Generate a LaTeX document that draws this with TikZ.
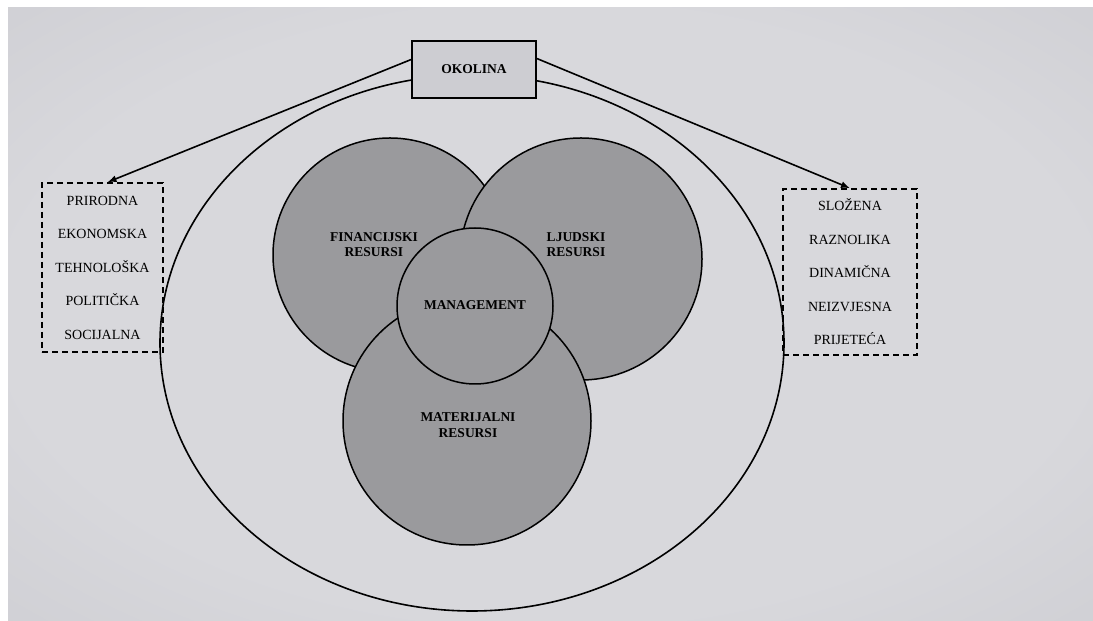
\documentclass[tikz,border=0pt]{standalone}
\usepackage{fontspec}
\setmainfont{Liberation Serif}
\usetikzlibrary{arrows.meta,positioning,shapes.geometric}
\definecolor{pagelight}{RGB}{216,216,220}
\definecolor{pagemid}{RGB}{198,198,204}
\definecolor{pagedark}{RGB}{162,162,170}
\definecolor{boxgray}{RGB}{205,205,210}
\definecolor{resgray}{RGB}{154,154,157}
\pgfdeclareradialshading{paper}{\pgfpointorigin}{color(0bp)=(pagelight); color(25bp)=(pagelight); color(50bp)=(pagemid); color(71bp)=(pagedark)}
\begin{document}
\begin{tikzpicture}[x=1pt,y=1pt,
	res/.style={draw, circle, fill=resgray, line width=1.5pt, inner sep=0pt},
	lbl/.style={font=\fontsize{13.5}{15.5}\selectfont\bfseries, align=center, inner sep=0pt},
	env/.style={draw, dash pattern=on 6pt off 4pt, line width=1.6pt, align=center, font=\fontsize{14}{33.5}\selectfont},
	tip/.style={-{Latex[length=9pt,width=7pt]}, line width=1.6pt}]
		\useasboundingbox (0,0) rectangle (1093,621);
		\fill[white] (0,0) rectangle (1093,621);
		\shade[shading=paper] (8,0) rectangle (1093,613);
		\node (org) [draw, ellipse, line width=1.6pt, minimum width=624pt, minimum height=536pt] at (472,278) {};
		\node (fin) [res, minimum size=234pt] at (390,366) {};
		\node (ljud) [res, minimum size=242pt] at (581,362) {};
		\node (mat) [res, minimum size=248pt] at (467,200) {};
		\node (mgmt) [res, minimum size=156pt] at (475,315) {};
		\node (finl) [lbl] at (374,376.5) {FINANCIJSKI\\RESURSI};
		\node (ljudl) [lbl] at (576,376.5) {LJUDSKI\\RESURSI};
		\node (matl) [lbl] at (468,196) {MATERIJALNI\\RESURSI};
		\node (mgmtl) [lbl] at (475,316) {MANAGEMENT};
		\node (okol) [draw, fill=boxgray, line width=1.6pt, minimum width=124pt, minimum height=57pt, font=\fontsize{13.5}{15}\selectfont\bfseries] at (474,551.5) {OKOLINA};
		\node (lbox) [env, minimum width=121pt, minimum height=169pt] at (102.5,353.5) {PRIRODNA\\EKONOMSKA\\TEHNOLOŠKA\\POLITIČKA\\SOCIJALNA};
		\node (rbox) [env, minimum width=134pt, minimum height=166pt] at (850,349) {SLOŽENA\\RAZNOLIKA\\DINAMIČNA\\NEIZVJESNA\\PRIJETEĆA};
		\draw[tip] ([yshift=10pt]okol.west) -- ([xshift=5pt]lbox.north);
		\draw[tip] ([yshift=11pt]okol.east) -- (rbox.north);
\end{tikzpicture}
\end{document}
